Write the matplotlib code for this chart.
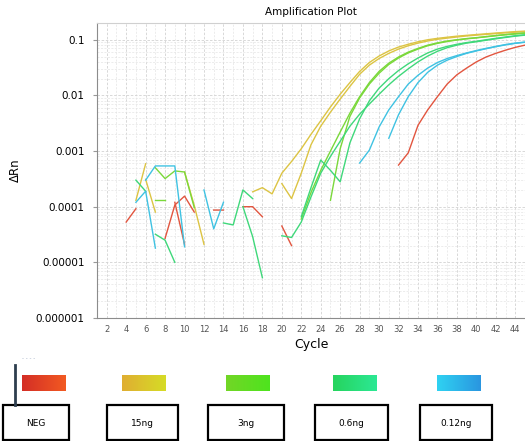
import numpy as np
import matplotlib
matplotlib.use("Agg")
import matplotlib.pyplot as plt
from matplotlib.patches import Rectangle
from matplotlib.ticker import FixedLocator, FixedFormatter, LogLocator, NullFormatter

nan = np.nan

# ---- data: delta Rn per cycle, each trace = start cycle + values (nan = gap) ----
neg_1 = [5.3e-5, 9.2e-5, nan, nan, 2.7e-5, 1.07e-4, 1.55e-4, 8e-5, nan, 8.7e-5, 8.7e-5, nan,
         1e-4, 1e-4, 6.6e-5, nan, 4.5e-5, 2e-5] + [nan] * 10 + \
        [5.6e-4, 9.3e-4, 2.9e-3, 5.5e-3, 9.5e-3, 0.016, 0.0235, 0.031, 0.04, 0.049, 0.057,
         0.065, 0.073, 0.08]
neg_2 = [1.2e-4, 2.1e-5]

ng15_1 = [1.3e-4, 5.9e-4]
ng15_2 = [3.1e-4, 8e-5]
ng15_3 = [4.2e-4, 1.05e-4, 2.1e-5]
ng15_a = [1.85e-4, 2.2e-4, 1.7e-4, 4e-4, 6.5e-4, 1.1e-3, 2e-3, 3.5e-3, 6.2e-3, 0.0105, 0.017,
          0.027, 0.039, 0.051, 0.063, 0.074, 0.083, 0.092, 0.1, 0.106, 0.111, 0.116, 0.12,
          0.124, 0.128, 0.132, 0.136, 0.14, 0.143]
ng15_b = [2.6e-4, 1.4e-4, 4e-4, 1.3e-3, 2.8e-3, 5e-3, 8.6e-3, 0.0145, 0.024, 0.035, 0.046,
          0.057, 0.068, 0.078, 0.087, 0.095, 0.102, 0.107, 0.112, 0.117, 0.121, 0.125, 0.129,
          0.133, 0.137, 0.14]

ng3_1 = [5e-4, 3.2e-4, 4.4e-4, 4.2e-4, 9.6e-5]
ng3_2 = [1.3e-4, 1.3e-4]
ng3_a = [6e-5, 1.8e-4, 4.5e-4, 1e-3, 2.2e-3, 4.8e-3, 9.5e-3, 0.017, 0.027, 0.038, 0.049, 0.06,
         0.07, 0.08, 0.088, 0.095, 0.1, 0.105, 0.109, 0.114, 0.119, 0.124, 0.129, 0.133]
ng3_b = [1.3e-4, 1.1e-3, 4.2e-3, 9e-3, 0.016, 0.025, 0.036, 0.047, 0.058, 0.068, 0.078, 0.086,
         0.093, 0.099, 0.104, 0.108, 0.113, 0.118, 0.123, 0.127, 0.131]

ng06_1 = [3e-4, 1.9e-4]
ng06_2 = [3.2e-5, 2.5e-5, 1e-5]
ng06_3 = [5.1e-5, 4.7e-5, 2e-4, 1.4e-4]
ng06_4 = [1e-4, 2.9e-5, 5.3e-6]
ng06_a = [6.6e-5, 2.2e-4, 6.9e-4, 4.5e-4, 2.8e-4, 1.4e-3, 3.8e-3, 8e-3, 0.0135, 0.02, 0.028,
          0.037, 0.047, 0.058, 0.068, 0.076, 0.083, 0.089, 0.094, 0.1, 0.106, 0.112, 0.118, 0.123]
ng06_b = [3e-5, 2.8e-5, 5.3e-5, 1.5e-4, 4e-4, 8e-4, 1.5e-3, 2.8e-3, 4.6e-3, 7e-3, 0.0105,
          0.0155, 0.022, 0.03, 0.04, 0.051, 0.062, 0.072, 0.08, 0.087, 0.092, 0.098, 0.104,
          0.11, 0.116, 0.121]

ng012_1 = [1.2e-4, 1.9e-4, 1.8e-5]
ng012_2 = [3e-4, 5.4e-4, 5.4e-4, 5.4e-4, 1.9e-5]
ng012_3 = [2e-4, 4e-5, 1.2e-4]
ng012_a = [6.1e-4, 1.04e-3, 2.7e-3, 5.5e-3, 9.5e-3, 0.016, 0.023, 0.031, 0.039, 0.046, 0.052,
           0.058, 0.064, 0.07, 0.076, 0.082, 0.087, 0.091]
ng012_b = [1.7e-3, 4.5e-3, 9.5e-3, 0.017, 0.026, 0.035, 0.043, 0.05, 0.057, 0.063, 0.069,
           0.075, 0.081, 0.086, 0.09]

samples = ["NEG", "15ng", "3ng", "0.6ng", "0.12ng"]
line_colors = ["#e2553f", "#dcc443", "#7ad83a", "#3fd87a", "#3fc2e2"]
swatch_colors = [("#d42e26", "#f25a22"), ("#e0ae32", "#d6dc26"), ("#72d626", "#4ee41e"),
                 ("#26d45e", "#2ce894"), ("#2fd2f2", "#2a96e0")]
traces = [
    [(4, neg_1), (9, neg_2)],
    [(5, ng15_1), (6, ng15_2), (10, ng15_3), (17, ng15_a), (20, ng15_b)],
    [(7, ng3_1), (7, ng3_2), (22, ng3_a), (25, ng3_b)],
    [(5, ng06_1), (7, ng06_2), (14, ng06_3), (16, ng06_4), (22, ng06_a), (20, ng06_b)],
    [(5, ng012_1), (6, ng012_2), (12, ng012_3), (28, ng012_a), (31, ng012_b)],
]

ytick_vals = [1e-6, 1e-5, 1e-4, 1e-3, 1e-2, 1e-1]
ytick_labels = ["0.000001", "0.00001", "0.0001", "0.001", "0.01", "0.1"]
xtick_vals = list(range(2, 45, 2))

W, H = 525, 441
fig = plt.figure(figsize=(W / 100, H / 100), dpi=100)


def px(x0, y0, w, h):
    # pixel box (top-left origin) -> figure fraction
    return [x0 / W, 1 - (y0 + h) / H, w / W, h / H]


ax = fig.add_axes(px(97, 23, 428, 295))
for col, group in zip(line_colors, traces):
    for start, vals in group:
        v = np.array(vals, dtype=float)
        ax.plot(np.arange(start, start + len(v)), v, color=col, lw=1.0)

ax.set_yscale("log")
ax.set_xlim(1.08, 44.6)
ax.set_ylim(1e-6, 0.2)
ax.yaxis.set_major_locator(FixedLocator(ytick_vals))
ax.yaxis.set_major_formatter(FixedFormatter(ytick_labels))
ax.yaxis.set_minor_locator(LogLocator(subs=np.arange(2, 10)))
ax.yaxis.set_minor_formatter(NullFormatter())
ax.set_xticks(xtick_vals)
ax.set_xticks(range(1, 46), minor=True)
ax.tick_params(axis="y", which="major", labelsize=7.5, length=3, color="#999999", pad=6)
ax.tick_params(axis="x", which="major", labelsize=6, length=0, labelcolor="#555555", pad=5)
ax.tick_params(which="minor", length=0)
ax.grid(True, which="major", color="#d2d2d2", ls=(0, (3, 2)), lw=0.6)
ax.grid(True, which="minor", color="#e4e4e4", ls=(0, (3, 2)), lw=0.5)
ax.set_axisbelow(True)
for s in ["left", "bottom"]:
    ax.spines[s].set_color("#8c8c8c")
ax.spines["top"].set_color("#d0d0d0")
ax.spines["right"].set_visible(False)

ax.set_title("Amplification Plot", fontsize=7.5, pad=6)
ax.set_xlabel("Cycle", fontsize=9, labelpad=3)
ax.set_ylabel("ΔRn", fontsize=8.5, labelpad=10)

# ---- legend strip below the chart ----
fig.add_artist(plt.Line2D([15 / W, 15 / W], [1 - 405 / H, 1 - 365 / H], color="#2e3e4e", lw=2))
fig.text(22 / W, 1 - 358 / H, "- - - -", fontsize=4, color="#9aa8c0", va="center")

swatch_x = [22, 122, 226, 333, 437]
box_x = [3, 107, 208, 315, 420]
box_w = [66, 71, 76, 73, 72]
grad = np.linspace(0, 1, 50).reshape(1, -1)
for i, name in enumerate(samples):
    sax = fig.add_axes(px(swatch_x[i], 375, 44, 16))
    cmap = matplotlib.colors.LinearSegmentedColormap.from_list("s", swatch_colors[i])
    sax.imshow(grad, aspect="auto", cmap=cmap)
    sax.axis("off")
    fig.add_artist(Rectangle((box_x[i] / W, 1 - 440 / H), box_w[i] / W, 35 / H,
                             transform=fig.transFigure, fill=False, ec="black", lw=1.6))
    fig.text((box_x[i] + box_w[i] / 2) / W, 1 - 423 / H, name, fontsize=6.5,
             ha="center", va="center")

fig.savefig("out.png", dpi=100)
